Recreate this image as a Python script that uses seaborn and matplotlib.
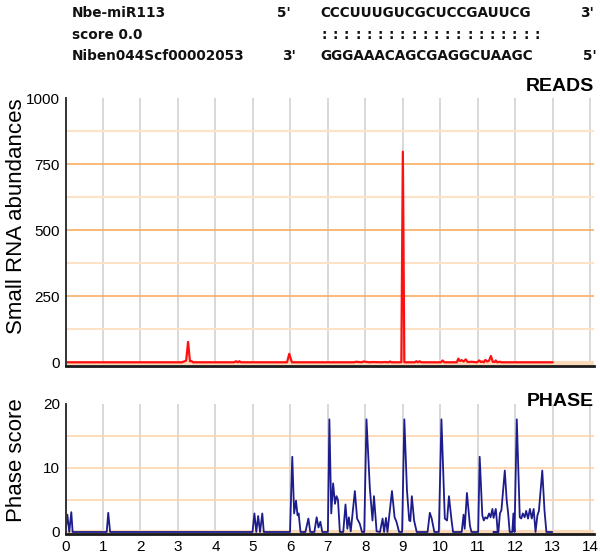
import numpy as np
import matplotlib
matplotlib.use("Agg")
import matplotlib.pyplot as plt
import seaborn as sns

# small RNA reads along the transcript (position in units of 100 nt)
reads_pos = [0.0, 3.10, 3.18, 3.22, 3.27, 3.32, 3.36, 3.40, 4.50, 4.55, 4.60, 4.64, 4.68, 4.72,
             5.91, 5.97, 6.04, 7.70, 7.75, 7.90, 7.95, 8.10, 8.20, 8.45, 8.50, 8.62, 8.66, 8.70,
             8.96, 9.00, 9.04, 9.32, 9.36, 9.40, 9.45, 9.49, 10.02, 10.06, 10.11, 10.44, 10.48,
             10.52, 10.57, 10.62, 10.68, 10.73, 10.83, 10.98, 11.04, 11.08, 11.12, 11.16, 11.20,
             11.25, 11.30, 11.35, 11.40, 11.45, 11.48, 11.52, 11.59, 11.63, 13.0]
reads_val = [1, 1, 5, 8, 78, 5, 6, 1, 1, 5, 1, 5, 1, 1,
             1, 33, 1, 1, 3, 1, 4, 1, 2, 1, 2, 1, 4, 1,
             1, 797, 1, 1, 5, 1, 5, 1, 1, 8, 1, 1, 15,
             6, 9, 4, 12, 2, 3, 1, 8, 2, 4, 1, 10,
             4, 7, 25, 3, 2, 8, 1, 3, 1, 1]

# phase score
phase_pos = [0.0, 0.05, 0.10, 0.155, 0.19, 1.10, 1.14, 1.19, 4.99, 5.04, 5.09, 5.14, 5.19, 5.25, 5.29,
             5.99, 6.05, 6.10, 6.15, 6.19, 6.22, 6.27, 6.40, 6.48, 6.53, 6.64, 6.70, 6.75, 6.80, 6.85,
             7.00, 7.04, 7.09, 7.14, 7.19, 7.23, 7.27, 7.32, 7.41, 7.47, 7.52, 7.56, 7.61, 7.72, 7.78,
             7.85, 7.91, 7.97, 8.03, 8.12, 8.19, 8.23, 8.30, 8.39, 8.46, 8.50, 8.55, 8.59, 8.71, 8.78,
             8.83, 8.90, 8.98, 9.04, 9.11, 9.17, 9.20, 9.24, 9.30, 9.37, 9.66, 9.72, 9.77, 9.84, 9.96,
             10.03, 10.12, 10.18, 10.23, 10.30, 10.34, 10.57, 10.62, 10.65, 10.71, 10.79, 10.83, 11.01,
             11.05, 11.12, 11.16, 11.20, 11.25, 11.30, 11.34, 11.39, 11.42, 11.48, 11.51, 11.53, 11.42,
             11.55, 11.59, 11.63, 11.72, 11.77, 11.81, 11.85, 11.92, 11.95, 11.98, 12.04, 12.12, 12.16,
             12.20, 12.25, 12.29, 12.34, 12.39, 12.44, 12.49, 12.54, 12.59, 12.63, 12.72, 12.78, 12.83,
             12.99]
phase_val = [0, 2.7, 0, 3.1, 0, 0, 3.0, 0, 0, 2.9, 0, 2.5, 0, 2.9, 0,
             0, 11.75, 2.9, 4.9, 2.6, 2.9, 0, 0, 2.1, 0, 0, 2.3, 0.7, 1.6, 0,
             0, 17.6, 2.9, 7.6, 4.4, 5.6, 5.0, 0, 0, 4.3, 0.5, 2.3, 0.1, 6.4, 2.1,
             1.3, 0, 0, 17.6, 6.8, 1.8, 5.6, 0.1, 0, 2.1, 0, 2.2, 0, 6.4, 2.3,
             1.6, 0, 0, 17.6, 6.5, 1.8, 1.7, 5.6, 1.8, 0, 0, 3.0, 2.1, 0, 0,
             17.6, 2.1, 1.8, 5.6, 1.8, 0, 0, 2.7, 0.5, 6.1, 1.0, 0, 0,
             11.75, 2.6, 1.8, 2.3, 2.1, 2.9, 2.3, 3.6, 2.2, 3.6, 1.6, 0, 0,
             0, 2.9, 3.4, 9.6, 5.0, 2.9, 0, 0, 2.9, 0, 17.6, 2.3, 2.1,
             2.9, 2.3, 3.3, 2.1, 3.6, 2.1, 3.6, 0, 2.6, 3.3, 9.6, 3.3, 0,
             0]

mirna_name = "Nbe-miR113"
target_name = "Niben044Scf00002053"
score_text = "score 0.0"
mirna_seq = "CCCUUUGUCGCUCCGAUUCG"
target_seq = "GGGAAACAGCGAGGCUAAGC"

x_ticks = list(range(0, 15))
reads_ticks = [0, 250, 500, 750, 1000]
phase_ticks = [0, 10, 20]

sns.set_theme(style="white")
plt.rcParams["font.family"] = ["Liberation Sans", "DejaVu Sans"]
plt.rcParams["text.color"] = "black"
plt.rcParams["axes.labelcolor"] = "black"

fig = plt.figure(figsize=(6, 5.56), dpi=100)
W, H = 600.0, 556.0
x0_px, x1_px = 65.5, 594.0
ax1 = fig.add_axes([x0_px / W, 1 - 366 / H, (x1_px - x0_px) / W, 268 / H])
ax2 = fig.add_axes([x0_px / W, 1 - 534.3 / H, (x1_px - x0_px) / W, 130.3 / H])

dark_or = "#f8ad62"
light_or = "#fde2c8"
grid_gray = "#d2d2d2"

for ax in (ax1, ax2):
    ax.set_xlim(0, 14.1)
    for v in x_ticks[1:]:
        ax.axvline(v, color=grid_gray, lw=1.2, zorder=0)
    for s in ("top", "right"):
        ax.spines[s].set_visible(False)
    ax.spines["left"].set_color("#333333")
    ax.spines["left"].set_linewidth(1.4)
    ax.spines["bottom"].set_color("#1a1a1a")
    ax.spines["bottom"].set_linewidth(2.0)
    ax.tick_params(length=0, pad=4, labelsize=11, colors="black")
    ax.set_facecolor("white")

# top: reads
ax1.set_ylim(-13, 1000)
for v in [250, 500, 750]:
    ax1.axhline(v, color=dark_or, lw=1.2, zorder=0)
for v in [125, 375, 625, 875]:
    ax1.axhline(v, color=light_or, lw=1.5, zorder=0)
ax1.axhline(0, color="#f9d9b8", lw=3, zorder=0)
sns.lineplot(x=reads_pos, y=reads_val, ax=ax1, color="#ff1010", lw=1.6,
             estimator=None, sort=False)
ax1.set_yticks(reads_ticks)
ax1.set_xticks(x_ticks)
ax1.set_xticklabels([])
ax1.set_ylabel("Small RNA abundances", fontsize=16)
ax1.yaxis.set_label_coords(-0.072, 0.56)
ax1.text(1.0, 1.01, "READS", transform=ax1.transAxes, ha="right", va="bottom",
         fontsize=14, fontweight="bold", color="black")

# bottom: phase
ax2.set_ylim(-0.36, 20)
for v in [5, 10, 15]:
    ax2.axhline(v, color="#fcd3ad", lw=1.2, zorder=0)
ax2.axhline(0, color="#f9d9b8", lw=3, zorder=0)
sns.lineplot(x=phase_pos, y=phase_val, ax=ax2, color="#1c1c8c", lw=1.3,
             estimator=None, sort=False)
ax2.set_yticks(phase_ticks)
ax2.set_xticks(x_ticks)
ax2.set_xticklabels([str(t) for t in x_ticks])
ax2.set_ylabel("Phase score", fontsize=16)
ax2.yaxis.set_label_coords(-0.072, 0.57)
ax2.text(1.0, 1.02, "PHASE", transform=ax2.transAxes, ha="right", va="center",
         fontsize=14, fontweight="bold", color="black")

# alignment header
hfont = dict(fontsize=9.8, family="DejaVu Sans", fontweight="bold", va="center", ha="left",
             color="#111111")
rows = [13, 35, 56]
fig.text(72 / W, 1 - rows[0] / H, mirna_name, **hfont)
fig.text(277 / W, 1 - rows[0] / H, "5'", **hfont)
fig.text(320 / W, 1 - rows[0] / H, mirna_seq, **hfont)
fig.text(580 / W, 1 - rows[0] / H, "3'", **hfont)
fig.text(72 / W, 1 - rows[1] / H, score_text, **hfont)
for i in range(len(mirna_seq)):
    fig.text((321.5 + i * 11.2) / W, 1 - rows[1] / H, ":", **hfont)
fig.text(72 / W, 1 - rows[2] / H, target_name, **hfont)
fig.text(282 / W, 1 - rows[2] / H, "3'", **hfont)
fig.text(320 / W, 1 - rows[2] / H, target_seq, **hfont)
fig.text(583 / W, 1 - rows[2] / H, "5'", **hfont)

fig.savefig("out.png", dpi=100)
